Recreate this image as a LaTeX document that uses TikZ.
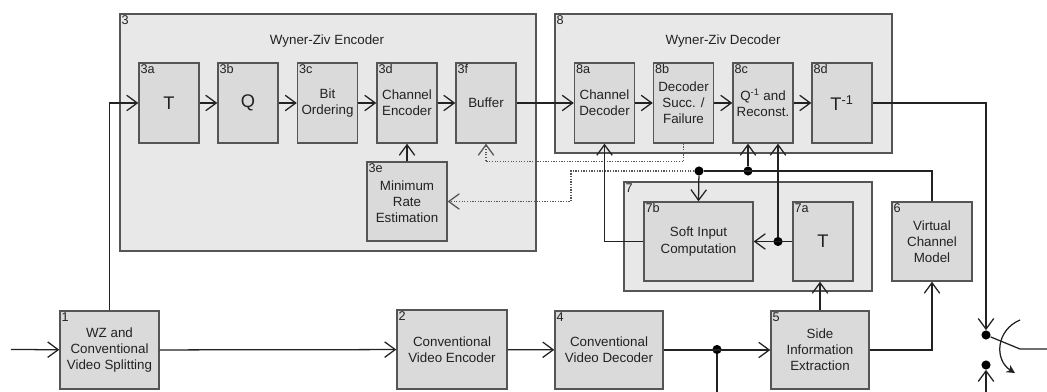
\documentclass[tikz,border=0pt]{standalone}
\usepackage{fontspec}
\setmainfont{Liberation Sans}
\usepackage{tikz}
\usetikzlibrary{positioning,arrows.meta}

\definecolor{groupfill}{HTML}{E8E8E8}
\definecolor{blockfill}{HTML}{DADADA}
\definecolor{edgegray}{HTML}{555555}
\definecolor{linegray}{HTML}{222222}

\tikzset{
	block/.style={draw=edgegray, fill=blockfill, line width=1pt,
		minimum width=1.5cm, minimum height=2cm, align=center,
		inner sep=1pt, text=linegray, font=\fontsize{9.5}{11.5}\selectfont},
	group/.style={draw=edgegray, fill=groupfill, line width=1pt},
	tag/.style={anchor=north west, inner sep=1.5pt, text=linegray,
		font=\fontsize{9}{9}\selectfont},
	title/.style={text=linegray, font=\fontsize{9.5}{11}\selectfont},
	arr/.style={-{Straight Barb[length=7.5pt,width=11pt]}, line width=0.9pt, draw=linegray},
	wire/.style={line width=0.9pt, draw=linegray},
	fb/.style={densely dotted, line width=0.9pt, draw=edgegray},
	junction/.style={circle, fill=black, inner sep=0pt, minimum size=6.5pt}
}

\begin{document}
\begin{tikzpicture}[x=0.025cm, y=-0.025cm]
	
	\useasboundingbox (0,0) rectangle (1047,392);
	
	% Wyner-Ziv Encoder
	\node [group,
	minimum width=10.4cm,
	minimum height=5.925cm,
	label={[tag]north west:3}
	] (enc) at (328,132.5) {};
	\node [title] (enctitle) at (327,41) {Wyner-Ziv Encoder};
	
	\node [block, label={[tag]north west:3a}] (t3a) at (169,103) {\fontsize{13}{14}\selectfont T};
	\node [block, label={[tag]north west:3b}] (q3b) at (248,103) {\fontsize{13}{14}\selectfont Q};
	\node [block, label={[tag]north west:3c}] (bito) at (327.5,103) {Bit\\Ordering};
	\node [block, label={[tag]north west:3d}] (chenc) at (407,103) {Channel\\Encoder};
	\node [block, label={[tag]north west:3f}] (buffer) at (486,103) {Buffer};
	
	\node [block,
	minimum width=2cm,
	minimum height=1.975cm,
	label={[tag]north west:3e}
	] (mre) at (407,201.5) {Minimum\\Rate\\Estimation};
	
	% Wyner-Ziv Decoder
	\node [group,
	minimum width=8.425cm,
	minimum height=3.475cm,
	label={[tag]north west:8}
	] (dec) at (723.5,83.5) {};
	\node [title] (dectitle) at (723,41) {Wyner-Ziv Decoder};
	
	\node [block, label={[tag]north west:8a}] (chdec) at (604.5,103) {Channel\\Decoder};
	\node [block, label={[tag]north west:8b}] (dsf) at (683.5,103) {Decoder\\Succ. /\\Failure};
	\node [block, label={[tag]north west:8c}] (rec) at (763,103) {Q\textsuperscript{-1} and\\Reconst.};
	\node [block, label={[tag]north west:8d}] (tinv) at (842,103) {\fontsize{13}{14}\selectfont T\textsuperscript{-1}};
	
	% Soft input group
	\node [group,
	minimum width=6.2cm,
	minimum height=2.725cm,
	label={[tag]north west:7}
	] (soft) at (748,236.5) {};
	
	\node [block,
	minimum width=2.725cm,
	minimum height=1.975cm,
	label={[tag]north west:7b}
	] (sic) at (698.5,241.5) {Soft Input\\Computation};
	
	\node [block,
	minimum height=1.975cm,
	label={[tag]north west:7a}
	] (t7a) at (823,241.5) {\fontsize{13}{14}\selectfont T};
	
	\node [block,
	minimum width=2cm,
	minimum height=1.975cm,
	label={[tag]north west:6}
	] (vcm) at (932,241.5) {Virtual\\Channel\\Model};
	
	% Bottom row
	\node [block,
	minimum width=2.475cm,
	minimum height=1.95cm,
	label={[tag]north west:1}
	] (split) at (109.5,350) {WZ and\\Conventional\\Video Splitting};
	
	\node [block,
	minimum width=2.75cm,
	minimum height=1.975cm,
	label={[tag]north west:2}
	] (cve) at (452,349.5) {Conventional\\Video Encoder};
	
	\node [block,
	minimum width=2.7cm,
	minimum height=1.95cm,
	label={[tag]north west:4}
	] (cvd) at (609,350) {Conventional\\Video Decoder};
	
	\node [block,
	minimum width=2.45cm,
	minimum height=1.95cm,
	label={[tag]north west:5}
	] (sie) at (820,350) {Side\\Information\\Extraction};
	
	% free ends and junctions
	\coordinate (vin) at (11,349.5);
	\coordinate (sidown) at (717,392);
	\coordinate (swup) at (986,392);
	\coordinate (swpivot) at (1020,349);
	\coordinate (swout) at (1047,349);
	\coordinate (arcA) at (1020,320);
	\coordinate (arcB) at (1015,373);
	
	\node [junction] (d1) at (699,171) {};
	\node [junction] (d2) at (748,171) {};
	\node [junction] (d3) at (778,241.5) {};
	\node [junction] (d4) at (717,349.5) {};
	\node [junction] (sw1) at (986,335) {};
	\node [junction] (sw2) at (986,365) {};
	
	% encoder path
	\draw[arr] (vin) -- (split);
	\draw[arr] (split.north) |- (t3a.west);
	\draw[arr] (t3a) -- (q3b);
	\draw[arr] (q3b) -- (bito);
	\draw[arr] (bito) -- (chenc);
	\draw[arr] (chenc) -- (buffer);
	\draw[arr] (mre) -- (chenc);
	\draw[arr] (buffer) -- (chdec);
	
	% decoder path
	\draw[arr] (chdec) -- (dsf);
	\draw[arr] (dsf) -- (rec);
	\draw[arr] (rec) -- (tinv);
	\draw[arr] (tinv.east) -| (sw1);
	
	% feedback
	\draw[arr, fb] (dsf.south) -- ++(0,18) -| (buffer.south);
	\draw[arr, fb] (d1) -- ++(-128,0) |- (mre.east);
	
	% side information
	\draw[wire] (vcm.north) |- (d1);
	\draw[arr] (d1) -- (sic.north);
	\draw[arr] (d2) -- (d2 |- rec.south);
	\draw[arr] (t7a) -- (sic);
	\draw[arr] (d3) -- (d3 |- rec.south);
	\draw[arr] (sic.west) -| (chdec.south);
	\draw[arr] (sie.north) -- (sie.north |- t7a.south);
	\draw[arr] (sie.east) -| (vcm.south);
	
	% bottom row
	\draw[arr] (split) -- (cve);
	\draw[arr] (cve) -- (cvd);
	\draw[arr] (cvd) -- (sie);
	\draw[wire] (d4) -- (sidown);
	
	% output switch
	\draw[arr] (swup) -- (sw2);
	\draw[wire] (sw1) -- (swpivot) -- (swout);
	\draw[wire, -{Stealth[length=6pt,width=6pt]}] (arcA) .. controls (996,330) and (994,360) .. (arcB);
	
\end{tikzpicture}
\end{document}
